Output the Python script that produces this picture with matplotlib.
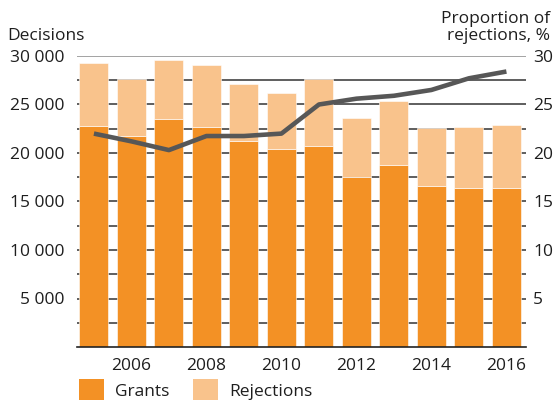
import matplotlib.pyplot as plt
from matplotlib.patches import Rectangle

# Data
years = [2005, 2006, 2007, 2008, 2009, 2010, 2011, 2012, 2013, 2014, 2015, 2016]
grants = [22800, 21750, 23550, 22700, 21200, 20450, 20700, 17550, 18800, 16600, 16350, 16400]
totals = [29250, 27600, 29550, 29050, 27100, 26200, 27600, 23600, 25350, 22600, 22700, 22900]
rejections = [t - g for t, g in zip(totals, grants)]
rejection_share = [22.0, 21.2, 20.3, 21.75, 21.75, 22.0, 25.0, 25.6, 25.9, 26.5, 27.7, 28.4]

left_ticks = [5000, 10000, 15000, 20000, 25000, 30000]
left_labels = ["5 000", "10 000", "15 000", "20 000", "25 000", "30 000"]
right_ticks = [5, 10, 15, 20, 25, 30]
x_ticks = [2006, 2008, 2010, 2012, 2014, 2016]
legend_labels = ["Grants", "Rejections"]

C_GRANT = "#F39125"
C_REJ = "#F9C38C"
C_LINE = "#575757"
C_TEXT = "#1e1e1e"

plt.rcParams["font.family"] = ["Open Sans", "DejaVu Sans"]

W, H = 554, 400
fig = plt.figure(figsize=(W / 100, H / 100), dpi=100)
ax = fig.add_axes([0.1384, 0.1325, 0.8116, 0.7275])

# gridlines behind bars
for v in range(2500, 30001, 2500):
    ax.axhline(v, color="#8a8a8a" if v == 30000 else "#333333", lw=1.1, zorder=0)

ax.bar(years, grants, width=0.77, color=C_GRANT, edgecolor="white", linewidth=0.4, zorder=2)
ax.bar(years, rejections, bottom=grants, width=0.77, color=C_REJ, edgecolor="white",
       linewidth=0.4, zorder=2)

ax.set_xlim(2004.54, 2016.53)
ax.set_ylim(0, 30000)
ax.set_yticks(left_ticks)
ax.set_yticklabels(left_labels)
ax.set_xticks(x_ticks)
ax.tick_params(axis="both", length=0, labelsize=12.5, colors=C_TEXT)
ax.tick_params(axis="y", pad=9)
ax.tick_params(axis="x", pad=8)
for s in ["top", "left", "right"]:
    ax.spines[s].set_visible(False)
ax.spines["bottom"].set_color("#222222")
ax.spines["bottom"].set_linewidth(1.2)
ax.spines["bottom"].set_zorder(5)

ax2 = ax.twinx()
ax2.plot(years, rejection_share, color=C_LINE, lw=3.3, solid_capstyle="butt", zorder=3)
ax2.set_ylim(0, 30)
ax2.set_yticks(right_ticks)
ax2.tick_params(axis="y", length=0, labelsize=12.5, colors=C_TEXT, pad=5)
for s in ax2.spines.values():
    s.set_visible(False)

fig.text(7 / W, 1 - 40 / H, "Decisions", fontsize=12.5, color=C_TEXT, ha="left", va="baseline")
fig.text(550 / W, 1 - 40 / H, "Proportion of\nrejections, %", fontsize=12.5, color=C_TEXT,
         ha="right", va="baseline", linespacing=1.05)

# legend drawn by hand (patches cut off at bottom edge as in the original)
for x0, tx, col, lab in [(79, 115, C_GRANT, legend_labels[0]), (193, 229, C_REJ, legend_labels[1])]:
    fig.patches.append(Rectangle((x0 / W, 0), 25 / W, 21 / H, transform=fig.transFigure,
                                 facecolor=col, edgecolor="none"))
    fig.text(tx / W, 1 - 396 / H, lab, fontsize=12.5, color=C_TEXT, ha="left", va="baseline")

fig.savefig("out.png", dpi=100)
